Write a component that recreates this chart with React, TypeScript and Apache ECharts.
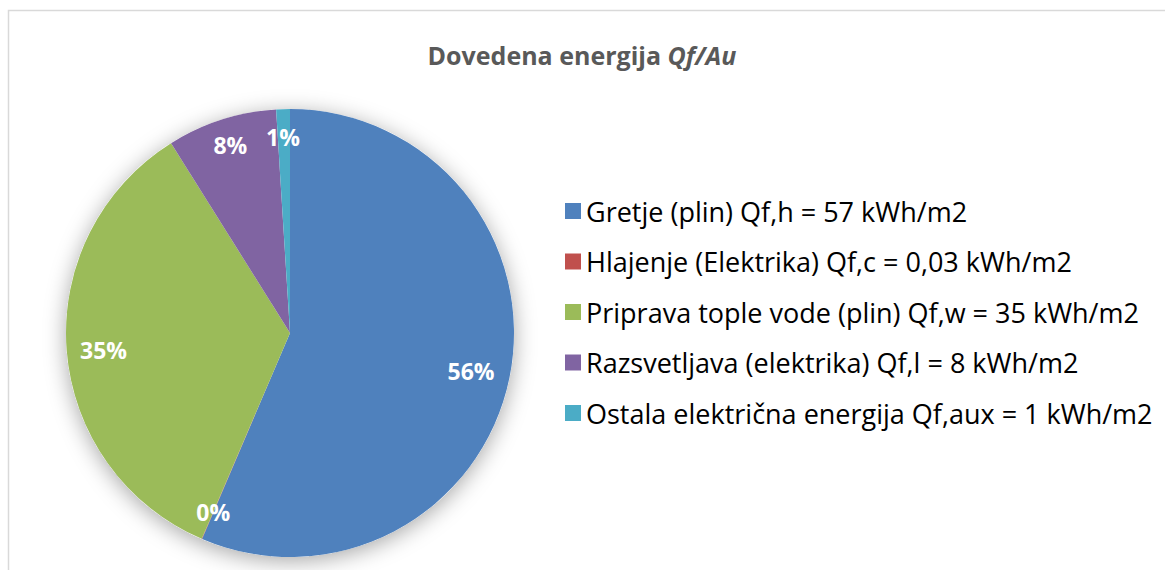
import React, { useEffect, useRef } from "react";
import * as echarts from "echarts";

const categories = [
  "Gretje (plin) Qf,h = 57 kWh/m2",
  "Hlajenje (Elektrika) Qf,c = 0,03 kWh/m2",
  "Priprava tople vode (plin) Qf,w = 35 kWh/m2",
  "Razsvetljava (elektrika) Qf,l = 8 kWh/m2",
  "Ostala električna energija Qf,aux = 1 kWh/m2",
];
const values = [57, 0.03, 35, 8, 1];
const colors = ["#4F81BD", "#C0504D", "#9BBB59", "#8064A2", "#4BACC6"];
const labelOffsets = [[-10, -1], [0, 0], [8, 2], [0, -2], [-1, -1]];

const FONT = "'Open Sans', sans-serif";

export default function App() {
  const ref = useRef<HTMLDivElement>(null);
  useEffect(() => {
    document.body.style.margin = "0";
    const chart = echarts.init(ref.current!, undefined, { renderer: "svg" });
    const data = categories.map((name, i) => ({
      name,
      value: values[i],
      itemStyle: { color: colors[i] },
    }));
    chart.setOption({
      animation: false,
      backgroundColor: "#ffffff",
      title: {
        text: "{a|Dovedena energija }{b|Qf/Au}",
        left: 577,
        textAlign: "center",
        top: 37,
        textStyle: {
          rich: {
            a: { fontFamily: FONT, fontSize: 25, fontWeight: "bold", color: "#595959" },
            b: { fontFamily: FONT, fontSize: 25, fontWeight: "bold", fontStyle: "italic", color: "#595959" },
          },
        },
      },
      legend: {
        orient: "vertical",
        left: 560,
        top: 191,
        itemWidth: 16,
        itemHeight: 16,
        itemGap: 20.5,
        icon: "rect",
        data: categories,
        selectedMode: false,
        textStyle: { fontFamily: FONT, fontSize: 27, color: "#000", lineHeight: 30, padding: [0, 0, 0, 0] },
      },
      graphic: [
        {
          type: "rect",
          shape: { x: 8.5, y: 10.5, width: 1200, height: 600 },
          style: { fill: "none", stroke: "#d9d9d9", lineWidth: 1.5 },
          silent: true,
          z: -10,
        },
      ],
      series: [
        {
          type: "pie",
          name: "shadow",
          center: [290, 333],
          radius: [0, 224],
          silent: true,
          z: 1,
          label: { show: false },
          labelLine: { show: false },
          data: [{ value: 1, name: "bg", itemStyle: { color: "#ffffff" } }],
          itemStyle: { shadowBlur: 22, shadowColor: "rgba(0,0,0,0.35)", shadowOffsetY: 4 },
        },
        {
          type: "pie",
          name: "main",
          center: [290, 333],
          radius: [0, 224],
          startAngle: 90,
          clockwise: true,
          z: 2,
          silent: true,
          label: { show: false },
          labelLine: { show: false },
          itemStyle: { borderWidth: 0 },
          data,
        },
        {
          type: "pie",
          name: "labels",
          center: [290, 333],
          radius: [160, 224],
          startAngle: 90,
          clockwise: true,
          z: 3,
          silent: true,
          itemStyle: { color: "rgba(0,0,0,0)", borderWidth: 0 },
          label: {
            show: true,
            position: "inside",
            color: "#ffffff",
            fontFamily: FONT,
            fontSize: 23,
            fontWeight: "bold",
            formatter: (p: any) => Math.round(p.percent) + "%",
          },
          labelLine: { show: false },
          data: categories.map((name, i) => ({
            name,
            value: values[i],
            itemStyle: { color: "rgba(0,0,0,0)" },
            label: { offset: labelOffsets[i] },
          })),
        },
      ],
    });
    return () => chart.dispose();
  }, []);
  return <div ref={ref} style={{ width: 1165, height: 570 }} />;
}
